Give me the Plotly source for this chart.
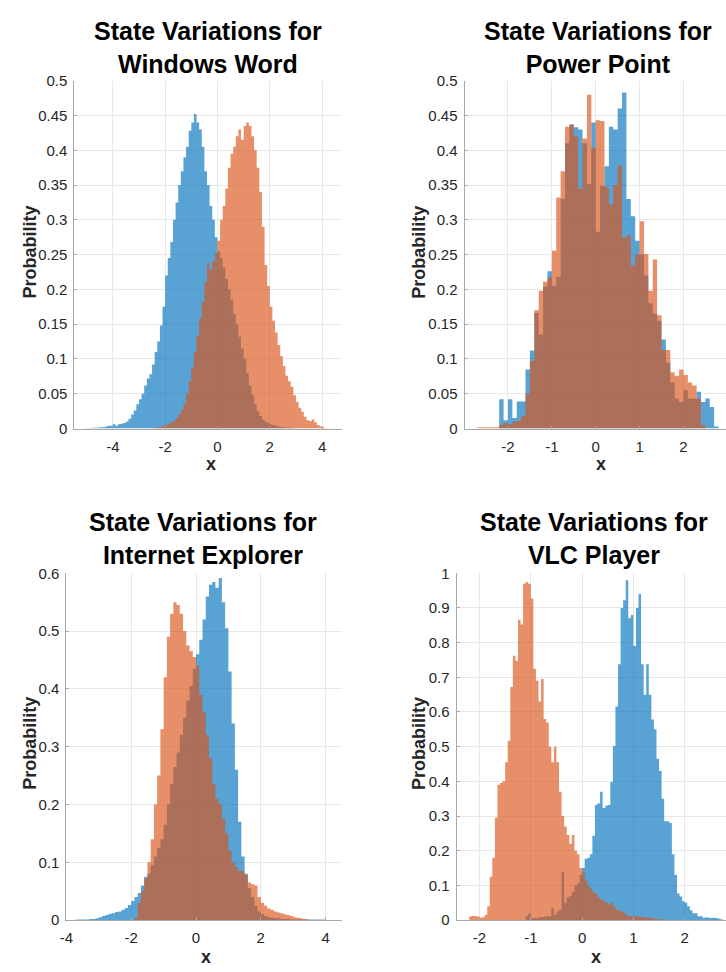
import numpy as np
import plotly.graph_objects as go

W, H = 726, 972

# ---------------- DATA (histogram heights) ----------------
# Windows Word (bin width 0.1)
ww_blue_start, ww_orange_start, ww_width = -5.0, -2.5, 0.1
ww_blue = [0.0008, 0.0008, 0.001, 0.001, 0.0015, 0.002, 0.002, 0.003, 0.004, 0.004,
           0.006, 0.004, 0.006, 0.007, 0.008, 0.01, 0.014, 0.02, 0.026, 0.035,
           0.042, 0.05, 0.062, 0.072, 0.078, 0.092, 0.11, 0.125, 0.148, 0.175,
           0.22, 0.245, 0.268, 0.3, 0.325, 0.35, 0.37, 0.39, 0.405, 0.428,
           0.44, 0.452, 0.44, 0.43, 0.405, 0.37, 0.35, 0.32, 0.30, 0.275,
           0.255, 0.245, 0.232, 0.215, 0.2, 0.185, 0.165, 0.15, 0.132, 0.115,
           0.1, 0.08, 0.062, 0.048, 0.035, 0.025, 0.018, 0.013, 0.01, 0.008,
           0.006, 0.005, 0.004, 0.003, 0.002, 0.002, 0.001, 0.001, 0.0008, 0.0005]
ww_orange = [0.0005, 0.001, 0.002, 0.003, 0.004, 0.005, 0.007, 0.009, 0.011, 0.015,
             0.02, 0.027, 0.036, 0.05, 0.068, 0.088, 0.11, 0.133, 0.158, 0.182,
             0.21, 0.238, 0.228, 0.24, 0.252, 0.27, 0.3, 0.32, 0.345, 0.375,
             0.395, 0.405, 0.42, 0.43, 0.415, 0.435, 0.44, 0.435, 0.42, 0.40,
             0.375, 0.34, 0.29, 0.235, 0.205, 0.175, 0.155, 0.138, 0.12, 0.104,
             0.09, 0.076, 0.068, 0.06, 0.048, 0.038, 0.03, 0.024, 0.017, 0.012,
             0.011, 0.013, 0.009, 0.005, 0.003, 0.0015, 0.0008]

# Power Point (bin width 0.1)
pp_start, pp_width = -2.8, 0.1
pp_blue = [0, 0, 0, 0, 0, 0,
           0.042, 0.012, 0.042, 0.015, 0.039, 0.039, 0.085, 0.112, 0.166, 0.135,
           0.204, 0.226, 0.205, 0.218, 0.33, 0.41, 0.437, 0.433, 0.43, 0.41,
           0.351, 0.44, 0.283, 0.349, 0.377, 0.434, 0.43, 0.46, 0.483, 0.33,
           0.305, 0.27, 0.25, 0.22, 0.18, 0.165, 0.155, 0.128, 0.095, 0.066,
           0.043, 0.038, 0.055, 0.043, 0.043, 0.053, 0.038, 0.043, 0.031, 0.003]
pp_orange = [0, 0.002, 0.002, 0.002, 0.002, 0.002,
             0.005, 0.008, 0.006, 0.010, 0.011, 0.018, 0.05, 0.097, 0.17, 0.198,
             0.211, 0.217, 0.256, 0.332, 0.37, 0.434, 0.437, 0.42, 0.345, 0.417,
             0.48, 0.403, 0.443, 0.442, 0.347, 0.322, 0.35, 0.378, 0.274, 0.278,
             0.234, 0.25, 0.298, 0.251, 0.198, 0.243, 0.163, 0.113, 0.113, 0.081,
             0.076, 0.085, 0.077, 0.066, 0.062, 0.043, 0.005, 0, 0, 0]

# Internet Explorer (bin width 0.1)
ie_blue_start, ie_orange_start, ie_width = -3.7, -1.9, 0.1
ie_blue = [0.001, 0.001, 0.001, 0.001, 0.002, 0.002, 0.003, 0.005, 0.007, 0.009,
           0.011, 0.012, 0.014, 0.015, 0.018, 0.021, 0.026, 0.033, 0.04, 0.047,
           0.06, 0.075, 0.08, 0.095, 0.11, 0.125, 0.14, 0.165, 0.2, 0.235,
           0.265, 0.29, 0.32, 0.35, 0.38, 0.405, 0.435, 0.46, 0.485, 0.52,
           0.56, 0.58, 0.585, 0.575, 0.592, 0.55, 0.505, 0.43, 0.34, 0.26,
           0.17, 0.11, 0.08, 0.055, 0.04, 0.025, 0.015, 0.01, 0.007, 0.005,
           0.004, 0.003, 0.003, 0.002, 0.002, 0.002, 0.001, 0.001, 0.001, 0.001,
           0.0008, 0.0008, 0.0008, 0.0008, 0.0008, 0.0008, 0.001]
ie_orange = [0.004, 0.03, 0.05, 0.072, 0.1, 0.14, 0.2, 0.25, 0.33, 0.42,
             0.49, 0.53, 0.55, 0.545, 0.53, 0.5, 0.475, 0.465, 0.455, 0.44,
             0.39, 0.36, 0.32, 0.28, 0.235, 0.21, 0.2, 0.175, 0.15, 0.12,
             0.1, 0.092, 0.085, 0.085, 0.078, 0.065, 0.062, 0.06, 0.04, 0.03,
             0.025, 0.02, 0.018, 0.015, 0.013, 0.012, 0.01, 0.009, 0.007, 0.005,
             0.004, 0.003, 0.002, 0.001]

# VLC Player (bin width 0.05)
vlc_blue_start, vlc_orange_start, vlc_width = -1.1, -2.2, 0.05
vlc_blue = [0.012, 0.02, 0.005, 0.006, 0.005, 0.008, 0.008, 0.01, 0.012, 0.01,
            0.035, 0.015, 0.025, 0.03, 0.139, 0.05, 0.065, 0.07, 0.082, 0.1,
            0.106, 0.13, 0.15, 0.177, 0.18, 0.19, 0.243, 0.332, 0.337, 0.37,
            0.323, 0.33, 0.332, 0.398, 0.502, 0.616, 0.738, 0.9, 0.922, 0.98,
            0.87, 0.88, 0.79, 0.9, 0.94, 0.738, 0.65, 0.738, 0.65, 0.578,
            0.55, 0.465, 0.43, 0.35, 0.285, 0.285, 0.28, 0.19, 0.13, 0.077,
            0.068, 0.054, 0.05, 0.04, 0.028, 0.02, 0.02, 0.011, 0.011, 0.007,
            0.008, 0.007, 0.006, 0.007, 0.006, 0.004, 0.002]
vlc_orange = [0.01, 0.012, 0.012, 0.01, 0.007, 0.008, 0.015, 0.04, 0.125, 0.18,
              0.295, 0.39, 0.395, 0.40, 0.455, 0.517, 0.672, 0.762, 0.748, 0.866,
              0.852, 0.97, 0.975, 0.97, 0.927, 0.725, 0.69, 0.63, 0.695, 0.58,
              0.57, 0.5, 0.455, 0.5, 0.455, 0.37, 0.30, 0.27, 0.245, 0.22,
              0.245, 0.2, 0.19, 0.15, 0.14, 0.115, 0.1, 0.09, 0.08, 0.075,
              0.065, 0.06, 0.055, 0.05, 0.045, 0.05, 0.04, 0.03, 0.028, 0.025,
              0.02, 0.014, 0.012, 0.01, 0.012, 0.01, 0.01, 0.008, 0.008, 0.006,
              0.008, 0.005, 0.004, 0.003, 0.002, 0.002, 0.001]

# Titles and tick labels
titles = ["State Variations for<br>Windows Word", "State Variations for<br>Power Point",
          "State Variations for<br>Internet Explorer", "State Variations for<br>VLC Player"]
ww_xticks = [-4, -2, 0, 2, 4]
ww_xlabels = ["-4", "-2", "0", "2", "4"]
pp_xticks = [-2, -1, 0, 1, 2]
pp_xlabels = ["-2", "-1", "0", "1", "2"]
ie_xticks = [-4, -2, 0, 2, 4]
ie_xlabels = ["-4", "-2", "0", "2", "4"]
vlc_xticks = [-2, -1, 0, 1, 2]
vlc_xlabels = ["-2", "-1", "0", "1", "2"]
y05_ticks = [0, 0.05, 0.1, 0.15, 0.2, 0.25, 0.3, 0.35, 0.4, 0.45, 0.5]
y05_labels = ["0", "0.05", "0.1", "0.15", "0.2", "0.25", "0.3", "0.35", "0.4", "0.45", "0.5"]
y06_ticks = [0, 0.1, 0.2, 0.3, 0.4, 0.5, 0.6]
y06_labels = ["0", "0.1", "0.2", "0.3", "0.4", "0.5", "0.6"]
y1_ticks = [0, 0.1, 0.2, 0.3, 0.4, 0.5, 0.6, 0.7, 0.8, 0.9, 1]
y1_labels = ["0", "0.1", "0.2", "0.3", "0.4", "0.5", "0.6", "0.7", "0.8", "0.9", "1"]

# ---------------- STYLE ----------------
BLUE = "rgba(0,114,189,0.65)"
ORANGE = "rgba(217,83,25,0.65)"
FONT = "Liberation Sans, Arial, Helvetica, sans-serif"
TICKC = "#262626"
LINEC = "#a8a8a8"
GRIDC = "#e8e8e8"


def px(x):
    return x / W


def py(y):
    return 1 - y / H


panels = [
    dict(blue=(ww_blue_start, ww_width, ww_blue), orange=(ww_orange_start, ww_width, ww_orange),
         xr=[-5.47, 4.75], yr=[0, 0.5], xt=(ww_xticks, ww_xlabels), yt=(y05_ticks, y05_labels),
         box=(68, 338, 73, 427), title_xy=(203, 39), ylab_xy=(23, 247), xlab_xy=(206, 463)),
    dict(blue=(pp_start, pp_width, pp_blue), orange=(pp_start, pp_width, pp_orange),
         xr=[-2.99, 2.97], yr=[0, 0.5], xt=(pp_xticks, pp_xlabels), yt=(y05_ticks, y05_labels),
         box=(462, 726, 73, 427), title_xy=(597, 39), ylab_xy=(416, 247), xlab_xy=(600, 463)),
    dict(blue=(ie_blue_start, ie_width, ie_blue), orange=(ie_orange_start, ie_width, ie_orange),
         xr=[-4.002, 4.5], yr=[0, 0.6], xt=(ie_xticks, ie_xlabels), yt=(y06_ticks, y06_labels),
         box=(60, 338, 574.3, 927.3), title_xy=(198, 539), ylab_xy=(23, 747), xlab_xy=(201, 965)),
    dict(blue=(vlc_blue_start, vlc_width, vlc_blue), orange=(vlc_orange_start, vlc_width, vlc_orange),
         xr=[-2.446, 2.805], yr=[0, 1], xt=(vlc_xticks, vlc_xlabels), yt=(y1_ticks, y1_labels),
         box=(454, 726, 574.3, 927.3), title_xy=(593, 539), ylab_xy=(416, 747), xlab_xy=(595, 965)),
]


def step_xy(start, width, vals):
    n = len(vals)
    edges = start + width * np.arange(n + 1)
    xs = [edges[0]] + list(edges[:-1]) + [edges[-1]]
    ys = [0] + list(vals) + [0]
    return xs, ys


fig = go.Figure()
annotations = []
layout_axes = {}
for i, p in enumerate(panels):
    k = "" if i == 0 else str(i + 1)
    xa, ya = "x" + k, "y" + k
    for (start, width, vals), col in ((p["blue"], BLUE), (p["orange"], ORANGE)):
        xs, ys = step_xy(start, width, vals)
        fig.add_trace(go.Scatter(x=xs, y=ys, mode="lines", line=dict(width=0, shape="hv"),
                                 fill="tozeroy", fillcolor=col, xaxis=xa, yaxis=ya,
                                 hoverinfo="skip", showlegend=False))
    x0, x1, y0, y1 = p["box"]
    common = dict(showgrid=True, gridcolor=GRIDC, gridwidth=1, showline=True, linecolor=LINEC,
                  linewidth=1, ticks="inside", ticklen=3, tickcolor=LINEC, zeroline=False,
                  tickfont=dict(family=FONT, size=15, color=TICKC), tickmode="array")
    layout_axes["xaxis" + k] = dict(common, domain=[px(x0), min(1.0, px(x1))], range=p["xr"],
                                    tickvals=p["xt"][0], ticktext=p["xt"][1], anchor=ya,
                                    ticklabelstandoff=4)
    layout_axes["yaxis" + k] = dict(common, domain=[py(y1), py(y0)], range=p["yr"],
                                    tickvals=p["yt"][0], ticktext=p["yt"][1], anchor=xa,
                                    ticklabelstandoff=3)
    tx, ty = p["title_xy"]
    annotations.append(dict(text="<b>" + titles[i] + "</b>", x=px(tx), y=py(ty), xref="paper",
                            yref="paper", showarrow=False, xanchor="center", yanchor="middle",
                            font=dict(family=FONT, size=25, color="#000000")))
    lx, ly = p["ylab_xy"]
    annotations.append(dict(text="<b>Probability</b>", x=px(lx), y=py(ly), xref="paper",
                            yref="paper", showarrow=False, xanchor="center", yanchor="middle",
                            textangle=-90, font=dict(family=FONT, size=18, color=TICKC)))
    ax_, ay_ = p["xlab_xy"]
    annotations.append(dict(text="<b>x</b>", x=px(ax_), y=py(ay_), xref="paper",
                            yref="paper", showarrow=False, xanchor="center", yanchor="middle",
                            font=dict(family=FONT, size=18, color=TICKC)))

fig.update_layout(width=W, height=H, margin=dict(l=0, r=0, t=0, b=0),
                  paper_bgcolor="white", plot_bgcolor="white", showlegend=False,
                  annotations=annotations, **layout_axes)
fig.write_html("out.html")
